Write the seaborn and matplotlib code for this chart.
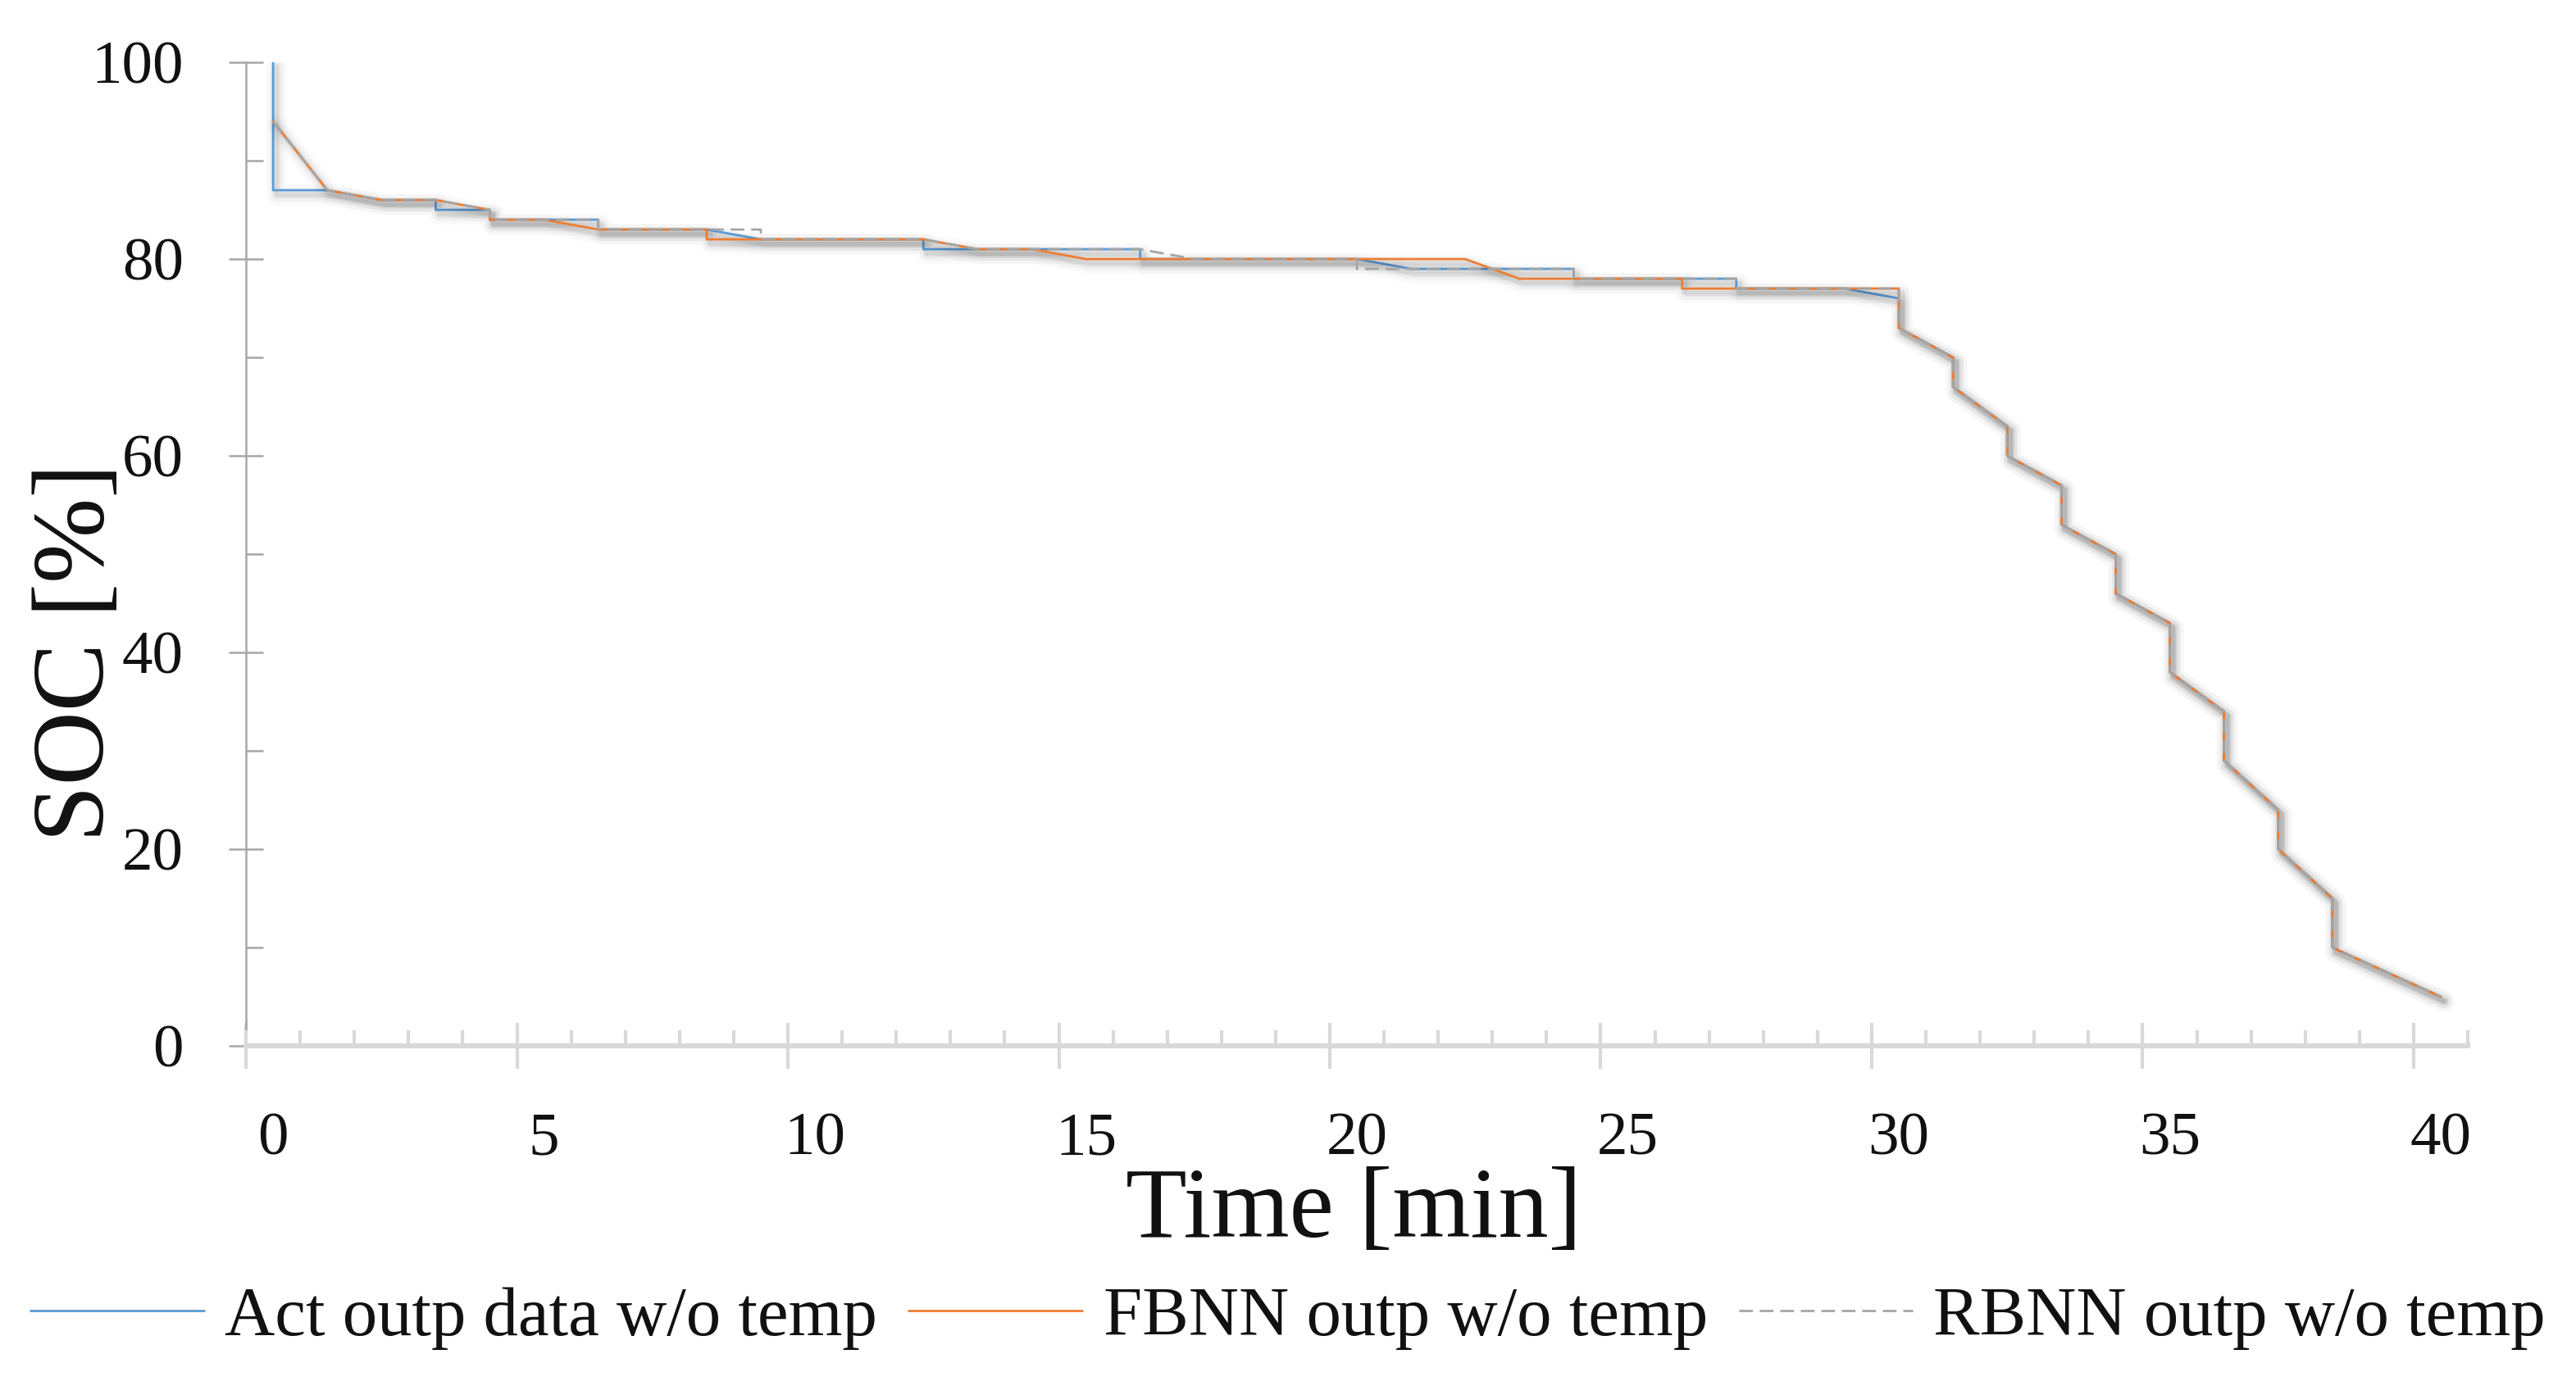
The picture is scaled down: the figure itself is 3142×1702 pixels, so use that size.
import numpy as np
import pandas as pd
import matplotlib
matplotlib.use("Agg")
import matplotlib.pyplot as plt
import matplotlib.patheffects as pe
from matplotlib.ticker import FixedLocator, MultipleLocator
import seaborn as sns

# ---------------- data (time in min, SOC in %) ----------------
act_time = [0, 0, 1, 2, 3, 3, 4, 4, 6, 6, 8, 9, 12, 12, 16, 16, 20, 21, 24, 24, 27, 27, 29, 30, 30,
            31, 31, 32, 32, 33, 33, 34, 34, 35, 35, 36, 36, 37, 37, 38, 38, 40]
act_soc = [100, 87, 87, 86, 86, 85, 85, 84, 84, 83, 83, 82, 82, 81, 81, 80, 80, 79, 79, 78, 78, 77, 77, 76, 73,
           70, 67, 63, 60, 57, 53, 50, 46, 43, 38, 34, 29, 24, 20, 15, 10, 5]

fbnn_time = [0, 1, 2, 3, 4, 4, 5, 6, 8, 8, 12, 13, 14, 15, 22, 23, 26, 26, 30, 30,
             31, 31, 32, 32, 33, 33, 34, 34, 35, 35, 36, 36, 37, 37, 38, 38, 40]
fbnn_soc = [94, 87, 86, 86, 85, 84, 84, 83, 83, 82, 82, 81, 81, 80, 80, 78, 78, 77, 77, 73,
            70, 67, 63, 60, 57, 53, 50, 46, 43, 38, 34, 29, 24, 20, 15, 10, 5]

rbnn_time = [0, 1, 2, 3, 4, 4, 6, 6, 9, 9, 12, 13, 16, 17, 20, 20, 24, 24, 27, 27, 30, 30,
             31, 31, 32, 32, 33, 33, 34, 34, 35, 35, 36, 36, 37, 37, 38, 38, 40]
rbnn_soc = [94, 87, 86, 86, 85, 84, 84, 83, 83, 82, 82, 81, 81, 80, 80, 79, 79, 78, 78, 77, 77, 73,
            70, 67, 63, 60, 57, 53, 50, 46, 43, 38, 34, 29, 24, 20, 15, 10, 5]

series_labels = ["Act outp data w/o temp", "FBNN outp w/o temp", "RBNN outp w/o temp"]
x_ticklabels = [0, 5, 10, 15, 20, 25, 30, 35, 40]
y_ticklabels = [0, 20, 40, 60, 80, 100]

# ---------------- style ----------------
sns.set_theme(style="white")
plt.rcParams["font.family"] = ["Liberation Serif", "DejaVu Serif"]
plt.rcParams["text.color"] = "#111111"

fig = plt.figure(figsize=(31.42, 17.02), dpi=100)
ax = fig.add_axes([0.0955, 0.2503, 0.8625, 0.705])

def shadow(lw):
    effs = []
    for w, a in [(lw + 16, 0.02), (lw + 10, 0.03), (lw + 5, 0.045), (lw + 2, 0.06)]:
        effs.append(pe.SimpleLineShadow(offset=(3, -4), shadow_color="black", alpha=a, rho=1.0, linewidth=w))
    effs.append(pe.Normal())
    return effs

LW = 2.0
df_act = pd.DataFrame({"t": act_time, "soc": act_soc})
df_fb = pd.DataFrame({"t": fbnn_time, "soc": fbnn_soc})
df_rb = pd.DataFrame({"t": rbnn_time, "soc": rbnn_soc})

sns.lineplot(data=df_act, x="t", y="soc", sort=False, estimator=None, ax=ax,
             color="#5b9bd5", lw=LW, label=series_labels[0])
sns.lineplot(data=df_fb, x="t", y="soc", sort=False, estimator=None, ax=ax,
             color="#ed7d31", lw=LW, label=series_labels[1])
sns.lineplot(data=df_rb, x="t", y="soc", sort=False, estimator=None, ax=ax,
             color="#a5a5a5", lw=LW, label=series_labels[2])
lines = ax.get_lines()
lines[0].set_path_effects(shadow(LW))
lines[1].set_path_effects(shadow(LW))
lines[2].set_dashes((6, 3))

ax.set_xlim(-0.5, 40.5)
ax.set_ylim(0, 100)
ax.set_xlabel("")
ax.set_ylabel("")

# x axis (category style: labels centred, tick marks between categories)
ax.set_xticks(x_ticklabels)
ax.set_xticklabels([str(v) for v in x_ticklabels])
ax.tick_params(axis="x", which="major", length=0, pad=58, labelsize=54, labelcolor="#111111")
ax.xaxis.set_minor_locator(FixedLocator(np.arange(-0.5, 40.6, 1.0)))
ax.tick_params(axis="x", which="minor", direction="in", length=14, width=3, color="#d9d9d9")
sec = ax.secondary_xaxis("bottom")
sec.set_xticks(np.arange(-0.5, 40.6, 5.0))
sec.tick_params(direction="inout", length=40, width=3, color="#d9d9d9", labelbottom=False)
sec.spines["bottom"].set_visible(False)

# y axis
ax.set_yticks(y_ticklabels)
ax.set_yticklabels([str(v) for v in y_ticklabels])
ax.yaxis.set_minor_locator(MultipleLocator(10))
ax.tick_params(axis="y", which="major", direction="inout", length=30, width=1.8,
               color="#a6a6a6", pad=40, labelsize=54, labelcolor="#111111")
ax.tick_params(axis="y", which="minor", direction="in", length=15, width=1.8, color="#a6a6a6")
ax.tick_params(left=True, bottom=True, which="both")

for s in ["top", "right"]:
    ax.spines[s].set_visible(False)
ax.spines["left"].set_color("#a6a6a6")
ax.spines["left"].set_linewidth(1.8)
ax.spines["bottom"].set_color("#d9d9d9")
ax.spines["bottom"].set_linewidth(4.5)
ax.spines["left"].set_zorder(0.5)

fig.text(0.5255, 0.131, "Time [min]", ha="center", va="center", fontsize=88, color="#111111")
fig.text(0.0305, 1 - 796 / 1702, "SOC [%]", rotation=90, ha="center", va="center", fontsize=90, color="#111111")

ax.get_legend().remove()
leg = fig.legend(handles=lines, labels=series_labels, loc="center", bbox_to_anchor=(0.5, 0.055),
                 ncol=3, frameon=False, fontsize=61, handlelength=2.5, handletextpad=0.3,
                 columnspacing=0.45)
for h in leg.legend_handles:
    h.set_path_effects([])
    h.set_linewidth(2.0)

fig.savefig("out.png", dpi=100, facecolor="white")
